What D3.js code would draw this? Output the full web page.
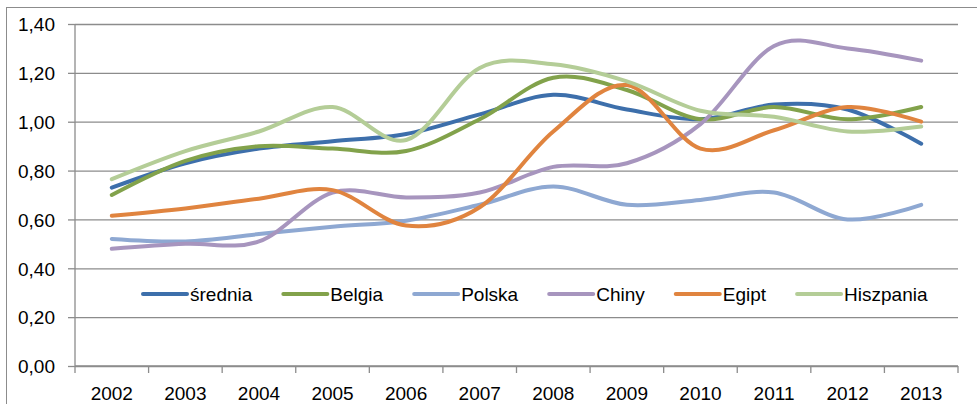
<!DOCTYPE html>
<html>
<head>
<meta charset="utf-8">
<script src="https://cdn.jsdelivr.net/npm/d3@7"></script>
<style>
  body { margin: 0; background: #fff; }
  text { font-family: 'Liberation Sans', Arial, sans-serif; fill: #000; }
</style>
</head>
<body>
<div id="plotholder"></div>
<script>
const YEARS = ['2002', '2003', '2004', '2005', '2006', '2007', '2008', '2009', '2010', '2011', '2012', '2013']
const YTICKS = [0, 0.2, 0.4, 0.6, 0.8, 1.0, 1.2, 1.4]
const SERIES_NAMES = ['średnia', 'Belgia', 'Polska', 'Chiny', 'Egipt', 'Hiszpania']
const SERIES_COLORS = ['#3d6fab', '#82a24b', '#8ea8d2', '#a795be', '#e0843f', '#b4cd97']

const SREDNIA = [0.73, 0.83, 0.89, 0.92, 0.95, 1.03, 1.11, 1.05, 1.01, 1.07, 1.05, 0.91]
const BELGIA = [0.70, 0.84, 0.90, 0.89, 0.88, 1.01, 1.18, 1.13, 1.01, 1.06, 1.01, 1.06]
const POLSKA = [0.52, 0.51, 0.54, 0.57, 0.595, 0.66, 0.735, 0.66, 0.68, 0.71, 0.60, 0.66]
const CHINY = [0.48, 0.50, 0.51, 0.71, 0.69, 0.71, 0.815, 0.83, 0.99, 1.31, 1.30, 1.25]
const EGIPT = [0.615, 0.645, 0.685, 0.72, 0.575, 0.65, 0.96, 1.15, 0.89, 0.965, 1.06, 1.00]
const HISZPANIA = [0.765, 0.88, 0.96, 1.06, 0.925, 1.22, 1.235, 1.165, 1.045, 1.02, 0.96, 0.98]

const SERIES_VALUES = [SREDNIA, BELGIA, POLSKA, CHINY, EGIPT, HISZPANIA]

const width = 977
const height = 404
const plot = { left: 75, right: 958, top: 24, bottom: 366 }
const grey = '#8c8c8c'

const svg = d3.select('#plotholder').append('svg')
  .attr('width', width)
  .attr('height', height)

// outer chart border (runs off the right and bottom edges)
svg.append('rect')
  .attr('x', 6.5).attr('y', 7.5)
  .attr('width', 990).attr('height', 420)
  .attr('fill', 'none')
  .attr('stroke', grey)

const xscale = d3.scaleBand()
  .domain(YEARS)
  .range([plot.left, plot.right])

const yscale = d3.scaleLinear()
  .domain([0, 1.4])
  .range([plot.bottom, plot.top])

const fmt = d => d3.format('.2f')(d).replace('.', ',')

// y axis: gridlines, ticks and labels
const yaxis = svg.append('g')
  .attr('transform', `translate(${plot.left},0)`)
  .call(d3.axisLeft(yscale)
    .tickValues(YTICKS)
    .tickFormat(fmt)
    .tickSize(7)
    .tickPadding(13))
yaxis.select('.domain').remove()
yaxis.selectAll('.tick line')
  .attr('stroke', grey)
  .attr('stroke-width', 1.3)
yaxis.selectAll('.tick')
  .append('line')
  .attr('x1', 0).attr('x2', plot.right - plot.left)
  .attr('stroke', grey)
  .attr('stroke-width', 1.3)
yaxis.selectAll('.tick text')
  .style('font-size', '19px')
  .style('font-family', "'Liberation Sans', Arial, sans-serif")
  .attr('fill', '#000')
  .attr('dy', '0.36em')

// vertical axis line
svg.append('line')
  .attr('x1', plot.left).attr('x2', plot.left)
  .attr('y1', plot.top).attr('y2', plot.bottom)
  .attr('stroke', grey).attr('stroke-width', 1.3)

// x axis: ticks sit on the category boundaries
const xaxis = svg.append('g')
  .attr('transform', `translate(0,${plot.bottom})`)
xaxis.append('line')
  .attr('x1', plot.left).attr('x2', plot.right)
  .attr('stroke', grey).attr('stroke-width', 1.3)
const bounds = YEARS.map(y => xscale(y)).concat([plot.right])
xaxis.selectAll('.xtick')
  .data(bounds)
  .enter()
  .append('line')
  .attr('x1', d => d).attr('x2', d => d)
  .attr('y1', 0).attr('y2', 7)
  .attr('stroke', grey).attr('stroke-width', 1.3)
xaxis.selectAll('.xlabel')
  .data(YEARS)
  .enter()
  .append('text')
  .attr('x', d => xscale(d) + xscale.bandwidth() / 2)
  .attr('y', 34)
  .attr('text-anchor', 'middle')
  .style('font-size', '19px')
  .text(d => d)

// smoothed lines, like excel's "smoothed line" option
const line = d3.line()
  .x((d, i) => xscale(YEARS[i]) + xscale.bandwidth() / 2)
  .y(d => yscale(d))
  .curve(d3.curveCatmullRom.alpha(0))

svg.selectAll('.series')
  .data(SERIES_VALUES)
  .enter()
  .append('path')
  .attr('d', d => line(d))
  .attr('fill', 'none')
  .attr('stroke', (d, i) => SERIES_COLORS[i])
  .attr('stroke-width', 4)
  .attr('stroke-linecap', 'round')
  .attr('stroke-linejoin', 'round')

// legend laid out left to right inside the plot
const legend = svg.append('g')
let lx = 143
const ly = 294
SERIES_NAMES.forEach((name, i) => {
  legend.append('line')
    .attr('x1', lx).attr('x2', lx + 44)
    .attr('y1', ly).attr('y2', ly)
    .attr('stroke', SERIES_COLORS[i])
    .attr('stroke-width', 4)
    .attr('stroke-linecap', 'round')
  const t = legend.append('text')
    .attr('x', lx + 47)
    .attr('y', ly + 7)
    .style('font-size', '19px')
    .text(name)
  lx = lx + 47 + t.node().getComputedTextLength() + 31
})
</script>
</body>
</html>
